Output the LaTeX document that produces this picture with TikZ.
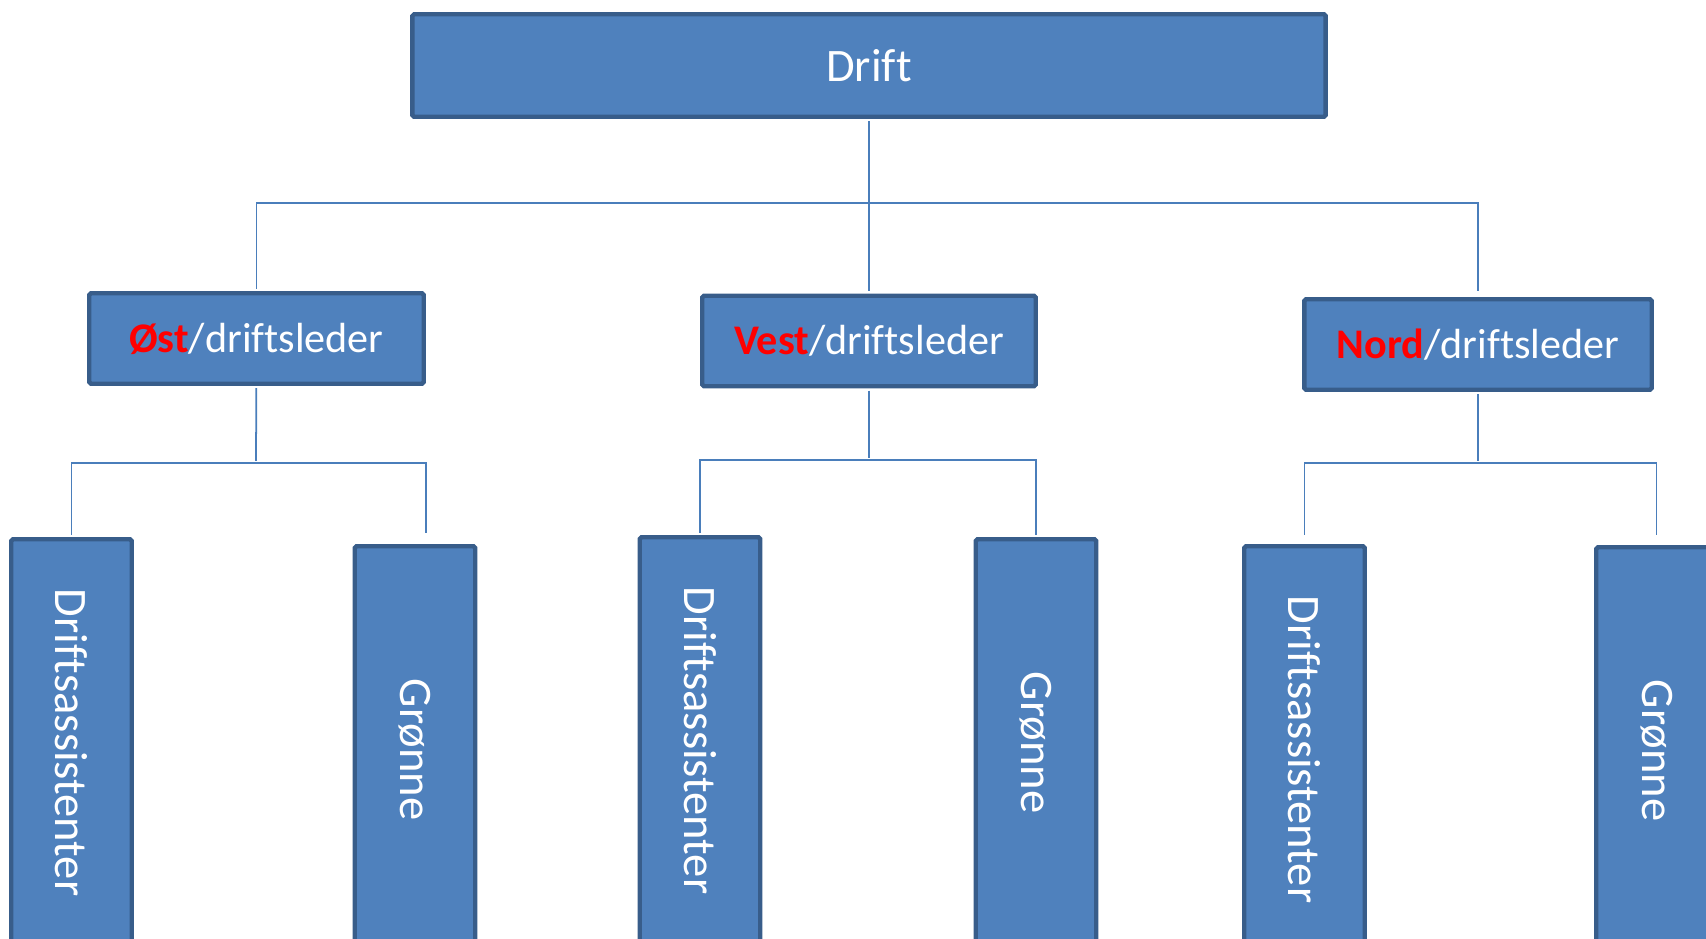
\documentclass[tikz,border=0pt]{standalone}
\usepackage{fontspec}
\usepackage{graphicx}
\setmainfont{Carlito}[Ligatures={NoCommon}]
\definecolor{boxfill}{RGB}{79,129,189}
\definecolor{boxline}{RGB}{56,93,138}
\definecolor{linkline}{RGB}{74,126,187}
\definecolor{areared}{RGB}{255,0,0}
\newcommand{\area}[1]{\textcolor{areared}{\textbf{#1}}}
\newcommand{\down}[1]{\rotatebox{-90}{#1}}

\begin{document}
\begin{tikzpicture}[x=0.02cm,y=-0.02cm,
  unit/.style={rectangle,draw=boxline,fill=boxfill,line width=2.5pt,
    rounded corners=1pt,text=white,inner sep=0pt},
  top node/.style={unit,minimum width=18.27cm,minimum height=2.05cm,
    font=\fontsize{26.5}{30}\selectfont},
  lead node/.style={unit,minimum height=1.81cm,
    font=\fontsize{24}{28}\selectfont},
  team node/.style={unit,anchor=north,minimum width=2.41cm,minimum height=8.14cm,
    font=\fontsize{26.5}{30}\selectfont},
  link/.style={draw=linkline,line width=1pt,shorten <=1.25pt,shorten >=1.25pt}]

  \useasboundingbox (0,0) rectangle (1706,938);
  \clip (0,0) rectangle (1706,938);

  \node[top node] (drift) at (869,65.5) {Drift};

  \node[lead node,minimum width=6.69cm] (ost) at (256.5,338.5) {\area{Øst}/driftsleder};
  \node[lead node,minimum width=6.67cm] (vest) at (869,341) {\area{Vest}/driftsleder};
  \node[lead node,minimum width=6.95cm] (nord) at (1478,344.5) {\area{Nord}/driftsleder};

  \node[team node] (ost-a) at (71.5,537) {\down{Driftsassistenter}};
  \node[team node] (ost-b) at (415,544) {\down{Grønne}};
  \node[team node] (vest-a) at (700,535) {\down{Driftsassistenter}};
  \node[team node] (vest-b) at (1036,537) {\down{Grønne}};
  \node[team node] (nord-a) at (1304.5,544) {\down{Driftsassistenter}};
  \node[team node] (nord-b) at (1656.5,545) {\down{Grønne}};

  \coordinate (top-bus) at (869,203);
  \coordinate (ost-bus) at (256,463);
  \coordinate (vest-bus) at (869,460);
  \coordinate (nord-bus) at (1478,463);

  \path[link]
   (drift) edge (vest)
   (ost) edge (ost-bus)
   (vest) edge (vest-bus)
   (nord) edge (nord-bus);

  \draw[link,shorten >=3.5pt] (ost) |- (top-bus) -| (nord);
  \draw[link,shorten >=6.3pt] (ost-a) |- (ost-bus -| ost.east) -- (ost-b.north -| ost.east);
  \draw[link] (vest-a) |- (vest-bus) -| (vest-b);
  \draw[link,shorten <=5.2pt,shorten >=5.8pt] (nord-a) |- (nord-bus) -| (nord-b);
\end{tikzpicture}
\end{document}
